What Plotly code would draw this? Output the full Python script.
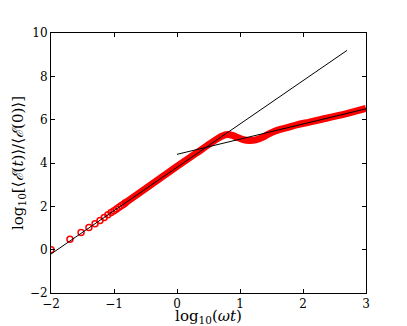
import plotly.graph_objects as go

# sparse early samples (open circles)
x_sparse = [-2.0, -1.699, -1.523, -1.398, -1.301, -1.222, -1.155, -1.097,
            -1.046, -1.0, -0.959, -0.921, -0.886, -0.854, -0.824]
y_sparse = [0.0, 0.48, 0.79, 1.02, 1.20, 1.35, 1.49, 1.61,
            1.71, 1.80, 1.88, 1.96, 2.03, 2.09, 2.15]

# dense part of the same series (markers overlap into a band)
x_dense = [-0.85, -0.5, 0.0, 0.3, 0.5, 0.62, 0.72, 0.8, 0.88, 0.96, 1.05,
           1.15, 1.25, 1.35, 1.45, 1.55, 1.65, 1.75, 1.9, 2.1, 2.3, 2.5,
           2.75, 3.0]
y_dense = [2.1, 2.82, 3.84, 4.44, 4.85, 5.08, 5.25, 5.31, 5.27, 5.18, 5.08,
           5.04, 5.07, 5.17, 5.33, 5.46, 5.56, 5.63, 5.76, 5.89, 6.02, 6.15,
           6.33, 6.52]

# fitted power-law guide lines
fit1_x = [-2.0, 2.7]
fit1_y = [-0.2, 9.2]
fit2_x = [0.0, 3.0]
fit2_y = [4.4, 6.5]

fig = go.Figure()

fig.add_trace(go.Scatter(x=x_dense, y=y_dense, mode="lines",
                         line=dict(color="red", width=7, shape="spline")))
fig.add_trace(go.Scatter(x=x_sparse, y=y_sparse, mode="markers",
                         marker=dict(symbol="circle-open", size=6, color="red",
                                     line=dict(width=1.5, color="red"))))
fig.add_trace(go.Scatter(x=fit1_x, y=fit1_y, mode="lines",
                         line=dict(color="black", width=1)))
fig.add_trace(go.Scatter(x=fit2_x, y=fit2_y, mode="lines",
                         line=dict(color="black", width=1)))

serif = "DejaVu Serif, Liberation Serif, serif"

fig.update_layout(
    width=407, height=326,
    margin=dict(l=51, r=41, t=33, b=33),
    plot_bgcolor="white", paper_bgcolor="white",
    showlegend=False,
    font=dict(family=serif, color="black", size=12),
)
fig.update_xaxes(
    range=[-2, 3], tickvals=[-2, -1, 0, 1, 2, 3],
    ticks="inside", ticklen=4, tickcolor="black",
    showline=True, linecolor="black", linewidth=1, mirror="ticks",
    showgrid=False, zeroline=False, automargin=False,
    title=dict(text="log<sub>10</sub>(<i>ωt</i>)", font=dict(size=15), standoff=0),
)
fig.update_yaxes(
    range=[-2, 10], tickvals=[-2, 0, 2, 4, 6, 8, 10],
    ticks="inside", ticklen=4, tickcolor="black",
    showline=True, linecolor="black", linewidth=1, mirror="ticks",
    showgrid=False, zeroline=False, automargin=False,
    title=dict(text="log<sub>10</sub>[⟨<i>ℰ</i>(<i>t</i>)⟩/⟨<i>ℰ</i>(0)⟩]",
               font=dict(size=15), standoff=2),
)

# the page body has a default 8px margin; drop it so the figure sits at 0,0
fig.write_html("out.html", config={"displayModeBar": False},
               post_script="document.body.style.margin='0';")
